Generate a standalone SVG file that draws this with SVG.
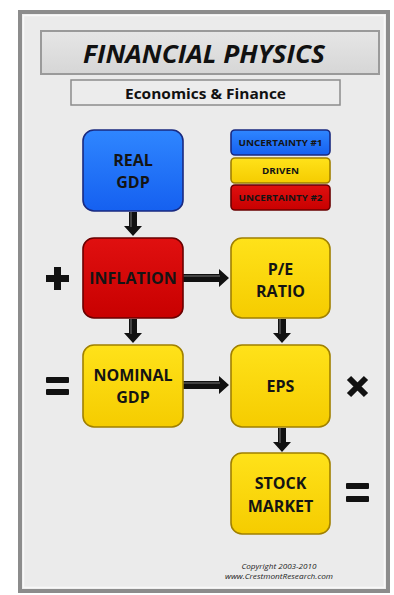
<svg xmlns="http://www.w3.org/2000/svg" width="394" height="595" viewBox="0 0 394 595">
<defs>
<linearGradient id="gBlue" x1="0" y1="0" x2="0" y2="1"><stop offset="0" stop-color="#2f86ff"/><stop offset="1" stop-color="#1560f0"/></linearGradient>
<linearGradient id="gRed" x1="0" y1="0" x2="0" y2="1"><stop offset="0" stop-color="#e01010"/><stop offset="1" stop-color="#c80000"/></linearGradient>
<linearGradient id="gYel" x1="0" y1="0" x2="0" y2="1"><stop offset="0" stop-color="#ffe21a"/><stop offset="1" stop-color="#f5cc00"/></linearGradient>
<linearGradient id="gTitle" x1="0" y1="0" x2="0" y2="1"><stop offset="0" stop-color="#e6e6e6"/><stop offset="1" stop-color="#d6d6d6"/></linearGradient>
<g id="arrowH"><path d="M0,-4 H36 V-9 L46,0 L36,9 V4 H0 Z" fill="#111"/><path d="M0,-2 H37" stroke="#555" stroke-width="1.5"/></g>
<g id="arrowV"><path d="M-4,0 V14 H-9 L0,24 L9,14 H4 V0 Z" fill="#111"/><path d="M-2,0 V15" stroke="#555" stroke-width="1.5"/></g>
</defs>
<style>
.box{stroke-width:1.6}
.blue{fill:url(#gBlue);stroke:#1a2a80}
.red{fill:url(#gRed);stroke:#6a0000}
.yel{fill:url(#gYel);stroke:#a08000}
.lbl{font-family:"Open Sans","Liberation Sans",sans-serif;font-weight:bold;fill:#141414;text-anchor:middle}
.big{font-size:16px}
.small{font-size:9.5px}
.op{fill:#111}
.copy{font-family:"Open Sans","Liberation Sans",sans-serif;font-size:8px;font-style:italic;fill:#222;text-anchor:middle}
</style>
<rect x="0" y="0" width="394" height="595" fill="#ffffff"/>
<rect x="20" y="12" width="368" height="579" fill="#ebebeb" stroke="#8c8c8c" stroke-width="4"/>
<rect x="23.5" y="15.5" width="361" height="572" fill="none" stroke="#f8f8f8" stroke-width="1.5"/>

<g id="title">
<rect x="41" y="31" width="338" height="43" fill="url(#gTitle)" stroke="#9a9a9a" stroke-width="2"/>
<text x="204" y="63" font-family="Open Sans, Liberation Sans, sans-serif" font-size="25" font-weight="bold" font-style="italic" fill="#111" text-anchor="middle" textLength="242" lengthAdjust="spacingAndGlyphs">FINANCIAL PHYSICS</text>
</g>
<g id="subtitle">
<rect x="71" y="80" width="269" height="25" fill="#ececec" stroke="#8c8c8c" stroke-width="1.5"/>
<text x="205.5" y="98.5" font-family="Open Sans, Liberation Sans, sans-serif" font-size="14.5" font-weight="bold" fill="#111" text-anchor="middle" textLength="161" lengthAdjust="spacingAndGlyphs">Economics &amp; Finance</text>
</g>

<g id="legend">
<g id="legend-u1"><rect class="box blue" x="231" y="130" width="99" height="25" rx="4"/><text class="lbl small" x="280.5" y="146" textLength="84" lengthAdjust="spacingAndGlyphs">UNCERTAINTY #1</text></g>
<g id="legend-driven"><rect class="box yel" x="231" y="158" width="99" height="25" rx="4"/><text class="lbl small" x="280.5" y="174" textLength="37" lengthAdjust="spacingAndGlyphs">DRIVEN</text></g>
<g id="legend-u2"><rect class="box red" x="231" y="185" width="99" height="25" rx="4"/><text class="lbl small" x="280.5" y="201" textLength="84" lengthAdjust="spacingAndGlyphs">UNCERTAINTY #2</text></g>
</g>

<g id="connectors">
<use href="#arrowV" x="133" y="212"/>
<use href="#arrowV" x="133" y="319"/>
<use href="#arrowV" x="282" y="319"/>
<use href="#arrowV" x="282" y="428"/>
<use href="#arrowH" x="183" y="278"/>
<use href="#arrowH" x="183" y="385"/>
</g>

<g id="real-gdp"><rect class="box blue" x="83" y="130" width="100" height="81" rx="11"/><text class="lbl big" x="133" y="166">REAL</text><text class="lbl big" x="133" y="188">GDP</text></g>
<g id="inflation"><rect class="box red" x="83" y="238" width="100" height="80" rx="11"/><text class="lbl big" x="133" y="284">INFLATION</text></g>
<g id="pe-ratio"><rect class="box yel" x="231" y="238" width="99" height="80" rx="11"/><text class="lbl big" x="280.5" y="275">P/E</text><text class="lbl big" x="280.5" y="297">RATIO</text></g>
<g id="nominal-gdp"><rect class="box yel" x="83" y="345" width="100" height="82" rx="11"/><text class="lbl big" x="133" y="381">NOMINAL</text><text class="lbl big" x="133" y="403">GDP</text></g>
<g id="eps"><rect class="box yel" x="231" y="345" width="99" height="82" rx="11"/><text class="lbl big" x="280.5" y="392">EPS</text></g>
<g id="stock-market"><rect class="box yel" x="231" y="453" width="99" height="81" rx="11"/><text class="lbl big" x="280.5" y="489">STOCK</text><text class="lbl big" x="280.5" y="512">MARKET</text></g>

<g id="ops">
<path class="op" d="M54,267 H61 V275 H69 V282 H61 V290 H54 V282 H46 V275 H54 Z"/>
<rect class="op" x="46" y="377" width="23" height="6" rx="1"/>
<rect class="op" x="46" y="389" width="23" height="6" rx="1"/>
<path d="M349,378 L366,395 M366,378 L349,395" stroke="#111" stroke-width="6"/>
<rect class="op" x="346" y="483" width="23" height="6" rx="1"/>
<rect class="op" x="346" y="496" width="23" height="6" rx="1"/>
</g>

<g id="copyright">
<text class="copy" x="279" y="569" textLength="75" lengthAdjust="spacingAndGlyphs">Copyright 2003-2010</text>
<text class="copy" x="279" y="579" textLength="108" lengthAdjust="spacingAndGlyphs">www.CrestmontResearch.com</text>
</g>
</svg>
